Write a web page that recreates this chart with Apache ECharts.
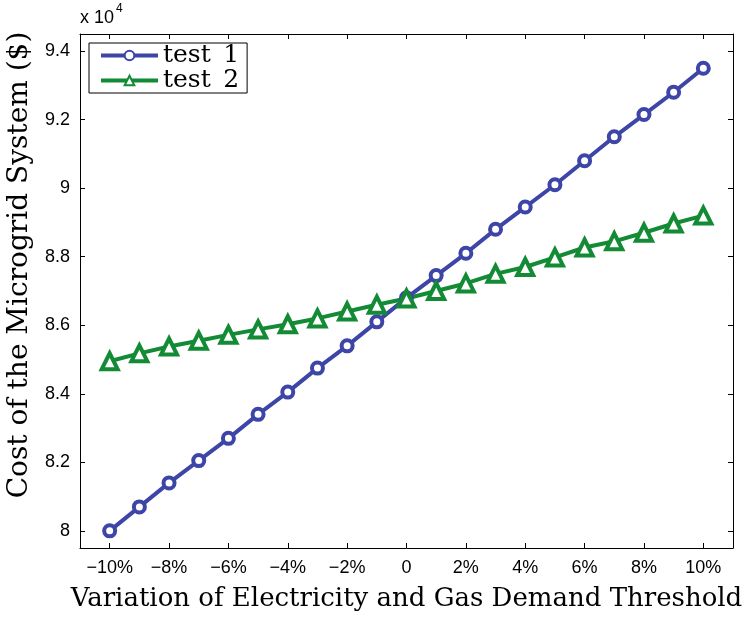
<!DOCTYPE html>
<html>
<head>
<meta charset="utf-8">
<script src="https://cdn.jsdelivr.net/npm/echarts@6/dist/echarts.min.js"></script>
<style>
    html, body { margin: 0; padding: 0; background: #fff; }
    #main { width: 753px; height: 619px; }
</style>
</head>
<body>
<div id="main"></div>
<script>
// 横轴：需求阈值变化 (%)
var variation = [-10, -9, -8, -7, -6, -5, -4, -3, -2, -1, 0, 1, 2, 3, 4, 5, 6, 7, 8, 9, 10];
// 成本 (x 10^4 $)
var test1 = [8.00, 8.07, 8.14, 8.205, 8.27, 8.34, 8.405, 8.475, 8.54, 8.61, 8.68,
    8.745, 8.81, 8.88, 8.945, 9.01, 9.08, 9.15, 9.215, 9.28, 9.35];
var test2 = [8.495, 8.518, 8.538, 8.555, 8.572, 8.588, 8.603, 8.62, 8.64, 8.66, 8.678,
    8.70, 8.722, 8.75, 8.77, 8.798, 8.827, 8.845, 8.87, 8.897, 8.92];
var xTicks = [-10, -8, -6, -4, -2, 0, 2, 4, 6, 8, 10];
var yTicks = [8, 8.2, 8.4, 8.6, 8.8, 9, 9.2, 9.4];

var blue = '#3d45a6';
var green = '#138a34';
var serif = '"DejaVu Serif", "Liberation Serif", serif';
var sans = '"Liberation Sans", Arial, sans-serif';

function pairs(xs, ys) {
    var out = [];
    for (var i = 0; i < xs.length; i++) {
        out.push([xs[i], ys[i]]);
    }
    return out;
}

var myChart = echarts.init(document.getElementById('main'), null, { renderer: 'canvas' });

var tickStyle = { show: true, inside: true, length: 5, lineStyle: { color: '#000', width: 1 } };
var lineStyleBox = { show: true, onZero: false, lineStyle: { color: '#000', width: 1 } };

var option = {
    animation: false,
    backgroundColor: '#fff',
    grid: { left: 80, right: 20, top: 34, bottom: 71, outerBoundsMode: 'none', containLabel: false },
    legend: {
        left: 89,
        top: 43,
        orient: 'vertical',
        itemWidth: 57,
        itemHeight: 12,
        itemGap: 0,
        padding: [0, 8, 0, 10],
        borderColor: '#000',
        borderWidth: 1,
        borderRadius: 0,
        backgroundColor: '#fff',
        lineStyle: { width: 4 },
        formatter: function (name) {
            return name.replace(' ', '\u2002');
        },
        textStyle: { fontFamily: serif, fontSize: 25, color: '#000', lineHeight: 23 },
        data: ['test 1', 'test 2']
    },
    graphic: [{
        type: 'text',
        left: 80,
        top: 9,
        style: { text: 'x 10', font: '18px ' + sans, fill: '#000' }
    }, {
        type: 'text',
        left: 116,
        top: 3,
        style: { text: '4', font: '12px ' + sans, fill: '#000' }
    }, {
        // 纵轴标题（原图略偏上，不居中）
        type: 'text',
        x: 20,
        y: 265,
        rotation: Math.PI / 2,
        style: {
            text: 'Cost of the Microgrid System ($)',
            font: '28px ' + serif,
            fill: '#000',
            align: 'center',
            verticalAlign: 'middle'
        }
    }],
    xAxis: [{
        type: 'value',
        min: -11,
        max: 11,
        name: 'Variation of Electricity and Gas Demand Threshold',
        nameLocation: 'middle',
        nameGap: 38,
        nameTextStyle: { fontFamily: serif, fontSize: 26, color: '#000' },
        splitLine: { show: false },
        axisLine: lineStyleBox,
        axisTick: Object.assign({ customValues: xTicks }, tickStyle),
        axisLabel: {
            customValues: xTicks,
            margin: 11,
            fontFamily: sans,
            fontSize: 18,
            color: '#000',
            formatter: function (v) {
                if (v == 0) return '0';
                return (v < 0 ? '\u2212' + (-v) : v) + '%';
            }
        }
    }, {
        type: 'value',
        position: 'top',
        min: -11,
        max: 11,
        splitLine: { show: false },
        axisLine: lineStyleBox,
        axisTick: Object.assign({ customValues: xTicks }, tickStyle),
        axisLabel: { show: false }
    }],
    yAxis: [{
        type: 'value',
        min: 7.95,
        max: 9.45,
        splitLine: { show: false },
        axisLine: lineStyleBox,
        axisTick: Object.assign({ customValues: yTicks }, tickStyle),
        axisLabel: {
            customValues: yTicks,
            margin: 10,
            fontFamily: sans,
            fontSize: 18,
            color: '#000',
            formatter: function (v) {
                return String(parseFloat(v.toFixed(1)));
            }
        }
    }, {
        type: 'value',
        position: 'right',
        min: 7.95,
        max: 9.45,
        splitLine: { show: false },
        axisLine: lineStyleBox,
        axisTick: Object.assign({ customValues: yTicks }, tickStyle),
        axisLabel: { show: false }
    }],
    series: [{
        name: 'test 1',
        type: 'line',
        data: pairs(variation, test1),
        symbol: 'circle',
        symbolSize: 11,
        color: blue,
        lineStyle: { color: blue, width: 4 },
        itemStyle: { color: '#fff', borderColor: blue, borderWidth: 4 }
    }, {
        name: 'test 2',
        type: 'line',
        data: pairs(variation, test2),
        symbol: 'triangle',
        symbolSize: 16,
        color: green,
        lineStyle: { color: green, width: 4 },
        itemStyle: { color: '#fff', borderColor: green, borderWidth: 4 }
    }]
};
myChart.setOption(option);
</script>
</body>
</html>
